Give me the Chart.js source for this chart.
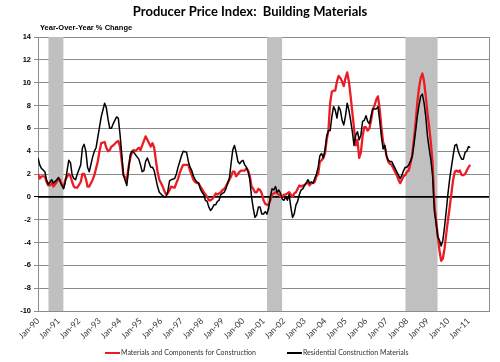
<!DOCTYPE html>
<html>
<head>
<meta charset="utf-8">
<script src="https://cdn.jsdelivr.net/npm/chart.js@4.4.1/dist/chart.umd.min.js"></script>
<style>
html,body{margin:0;padding:0;background:#ffffff;}
canvas{display:block;}
</style>
</head>
<body>
<canvas id="c" width="500" height="362"></canvas>
<script>
// ---------- DATA ----------
const chartTitle = 'Producer Price Index:  Building Materials';
const yAxisTitle = 'Year-Over-Year % Change';
const seriesNames = ['Materials and Components for Construction', 'Residential Construction Materials'];

// x tick labels, one per January (month index = position * 12, counted from Jan-1990)
const tickLabels = ['Jan-90','Jan-91','Jan-92','Jan-93','Jan-94','Jan-95','Jan-96','Jan-97','Jan-98','Jan-99','Jan-00',
                    'Jan-01','Jan-02','Jan-03','Jan-04','Jan-05','Jan-06','Jan-07','Jan-08','Jan-09','Jan-10','Jan-11'];

// months since Jan-1990 at which the values below were read
const monthsEarly = [0,1,2,4,5,6,7,8,9,11,12,13,14,15,16,18,19,20,21,22,23,25,26,27,28,29,30,32,33,34,35,36,37,
  39,40,41,42,43,44,46,47,48,49,50,52,53,54,55,56,57,59,60,61,62,63,64,66,67,68,69,70,71,73,74,75,76,77,78,80,81,82,83,84,85];
const firstMonthlyReading = 87, lastReading = 253;

// Materials and Components for Construction (red)
const materials = [
  2.0,1.6,1.8,1.8,1.3,1.0,1.0,1.2,0.9,1.3, 1.6,1.5,1.0,0.9,1.5,2.0,1.8,1.3,0.9,0.8,
  0.8,1.3,2.0,2.0,1.6,0.9,0.9,1.5,1.9,2.5, 3.1,4.0,4.7,4.8,4.3,4.0,4.1,4.4,4.5,4.8,
  4.9,4.4,3.2,1.9,1.5,2.6,3.4,3.9,4.1,4.0, 4.3,4.1,4.5,4.9,5.3,5.0,4.4,4.7,4.3,3.2,
  2.2,1.5,0.9,0.5,0.2,0.3,0.6,0.9,0.8,1.2, 1.6,2.1,2.5,2.8,
  2.8,2.8,2.3,1.9,1.5,1.3,1.2,1.2,0.9,0.7, 0.4,0.2,0.0,-0.3,-0.3,-0.2,0.0,0.3,0.2,0.3,
  0.4,0.6,0.7,0.9,1.2,1.5,1.8,2.2,2.2,1.8, 2.0,2.2,2.3,2.3,2.3,2.5,2.3,1.8,
  0.9,0.7,0.4,0.4,0.7,0.6,0.3,-0.3,-0.6,-0.7, -0.7,-0.3,0.2,0.3,0.4,0.3,0.2,0.0,0.0,0.2,
  0.2,0.3,0.4,0.2,0.0,0.3,0.4,0.7,1.0,0.9, 1.0,1.0,1.2,1.2,1.0,1.2,1.2,1.3,1.8,2.0,
  3.1,3.2,3.4,3.8,5.0,5.8,
  8.2,9.2,9.3,9.3,10.1,10.6,10.4,10.1,9.7,10.4, 10.9,10.1,8.8,7.4,6.0,4.5,5.0,3.4,3.9,5.3, 6.1,
  6.1,5.8,6.0,6.7,7.7,8.0,8.5,8.8,7.7,6.1, 4.8,4.4,3.6,3.1,2.9,2.8,2.5,2.2,1.9,1.5,
  1.2,1.5,1.8,1.9,2.2,2.3,2.9,3.6,5.0,6.4, 8.2,9.5,10.4,10.8,10.1,8.8,7.3,6.1,4.7,2.9,
  -0.6,-2.0,-3.4,-4.7,-5.6,-5.4,-4.5,-3.2,-2.0,-0.9, 0.3,1.5,2.2,2.3,2.2,2.3,1.9,1.9,2.0,2.3, 2.6,2.8
];

// Residential Construction Materials (black)
const residential = [
  3.4,2.8,2.5,2.2,1.5,1.1,1.3,1.5,1.2,1.5, 1.7,1.3,1.0,0.7,1.3,3.2,3.0,1.9,1.6,1.5,
  2.0,2.8,4.3,4.6,4.0,2.6,2.2,3.5,4.0,4.3, 5.2,6.1,7.0,8.2,7.8,6.8,6.0,6.0,6.4,7.0,
  6.9,5.5,3.8,1.9,1.0,2.4,3.7,4.0,3.9,3.7, 3.3,2.8,2.2,2.3,3.1,3.4,2.6,2.6,2.3,1.6,
  0.9,0.4,0.1,0.0,0.0,0.5,1.4,1.5,1.6,2.0, 2.6,3.1,3.6,4.0,
  3.9,3.1,2.6,2.3,1.8,1.5,1.3,1.2,0.7,0.4, 0.2,-0.3,-0.4,-0.9,-1.2,-1.0,-0.7,-0.7,-0.4,-0.3,
  0.2,0.3,0.4,0.7,1.2,1.6,2.9,4.1,4.5,3.9, 3.1,2.9,3.1,3.2,2.8,2.6,2.2,1.5,
  0.0,-1.0,-1.8,-1.6,-0.9,-0.9,-1.5,-1.5,-1.3,-1.5, -1.0,0.0,0.7,0.6,0.9,0.4,0.6,0.3,-0.2,-0.3,
  0.0,-0.3,0.2,-0.9,-1.8,-1.5,-0.7,-0.4,0.2,0.6, 0.7,1.0,1.2,1.5,1.2,1.3,1.2,1.6,2.0,2.6,
  3.6,3.8,3.4,4.1,5.3,5.8,
  5.8,7.0,7.9,7.6,6.9,7.9,7.6,6.7,6.3,7.1, 8.2,7.6,6.7,5.7,4.5,5.4,5.7,5.0,5.4,6.6, 6.7,
  7.1,6.6,6.4,7.1,7.7,7.7,7.7,7.9,6.7,5.3, 4.2,4.5,3.6,3.2,3.1,3.1,2.8,2.5,2.2,1.9,
  1.6,1.9,2.3,2.6,2.6,2.8,3.1,3.5,4.5,5.7, 7.0,8.0,8.8,9.0,8.2,7.0,5.3,4.2,3.2,1.8,
  -1.2,-2.3,-3.5,-3.8,-4.3,-3.8,-2.6,-1.2,0.3,1.6, 2.6,3.6,4.5,4.6,4.0,3.6,3.3,3.3,3.9,4.0, 4.4,4.3
];

// recessions (months since Jan-1990): start month, first month after the end
const recessionStart = [6, 134, 215];   // Jul-90, Mar-01, Dec-07
const recessionEnd   = [15, 143, 234];  // Apr-91, Dec-01, Jul-09

const yMin = -10, yMax = 14, yStep = 2;
const xMaxMonth = 264;

// ---------- BUILD ----------
const months = monthsEarly.slice();
for (let m = firstMonthlyReading; m <= lastReading; m++) months.push(m);

const toPoints = vals => vals.map((v, i) => ({x: months[i], y: v}));

const datasets = [
  {
    label: seriesNames[0], data: toPoints(materials),
    borderColor: '#ec1c24', backgroundColor: '#ec1c24', borderWidth: 2.3,
    pointRadius: 0, tension: 0, order: 1, borderJoinStyle: 'round'
  },
  {
    label: seriesNames[1], data: toPoints(residential),
    borderColor: '#000000', backgroundColor: '#000000', borderWidth: 1.5,
    pointRadius: 0, tension: 0, order: 0, borderJoinStyle: 'round'
  },
  {
    label: 'zero', data: [{x: 0, y: 0}, {x: xMaxMonth, y: 0}],
    borderColor: '#000000', borderWidth: 1.6, pointRadius: 0, order: 2
  }
];
recessionStart.forEach((s, i) => {
  datasets.push({
    label: 'recession' + i,
    data: [{x: s, y: yMax}, {x: recessionEnd[i], y: yMax}],
    fill: 'start', backgroundColor: '#c0c0c0',
    borderColor: 'rgba(0,0,0,0)', borderWidth: 0, pointRadius: 0, order: 3
  });
});

// y-axis caption above the plot and a legend drawn from the series' own labels/colours
const annotatePlugin = {
  id: 'annotate',
  afterDraw(chart) {
    const {ctx, chartArea} = chart;
    ctx.save();
    ctx.font = 'bold 7.5px "Liberation Sans", Arial, sans-serif';
    ctx.fillStyle = '#000';
    ctx.textBaseline = 'middle';
    ctx.textAlign = 'left';
    ctx.fillText(yAxisTitle, chartArea.left + 2, chartArea.top - 9);

    // legend
    const y = 353;
    let x = 105;
    ctx.font = '7px Lato, sans-serif';
    chart.data.datasets.slice(0, 2).forEach(ds => {
      ctx.strokeStyle = ds.borderColor;
      ctx.lineWidth = 2;
      ctx.beginPath();
      ctx.moveTo(x, y);
      ctx.lineTo(x + 15, y);
      ctx.stroke();
      ctx.fillStyle = '#333';
      ctx.fillText(ds.label, x + 16, y);
      x += 16 + ctx.measureText(ds.label).width + 31;
    });
    ctx.restore();
  }
};

new Chart(document.getElementById('c'), {
  type: 'line',
  data: {datasets},
  options: {
    responsive: false,
    animation: false,
    events: [],
    layout: {padding: {left: 0, right: 0, top: 0, bottom: 23}},
    plugins: {
      title: {
        display: true, text: chartTitle, color: '#000',
        font: {family: 'Lato', size: 13, weight: 'bold', lineHeight: 1.2},
        padding: {top: 4, bottom: 17.4}
      },
      legend: {display: false},
      tooltip: {enabled: false}
    },
    scales: {
      x: {
        type: 'linear', min: 0, max: xMaxMonth,
        afterBuildTicks: s => { s.ticks = tickLabels.map((t, i) => ({value: i * 12})); },
        ticks: {
          autoSkip: false, minRotation: 45, maxRotation: 45, padding: 5,
          callback: v => tickLabels[Math.round(v / 12)],
          font: {family: 'Lato', size: 8.5}, color: '#333'
        },
        grid: {display: false, drawTicks: false},
        border: {display: false},
        afterFit: s => { s.height = 28; }
      },
      y: {
        min: yMin, max: yMax,
        ticks: {stepSize: yStep, padding: 3, color: '#000',
          font: {family: '"Liberation Sans", Arial', size: 7.5, weight: 'bold'}},
        grid: {
          color: c => (c.tick && c.tick.value === 0) ? '#000' : '#8c8c8c',
          lineWidth: 1, tickLength: 4
        },
        border: {color: '#8c8c8c', width: 1},
        afterFit: s => { s.width = 38; }
      },
      yr: {
        position: 'right', display: true,
        ticks: {display: false}, grid: {display: false},
        border: {color: '#8c8c8c', width: 1},
        afterFit: s => { s.width = 11; }
      }
    }
  },
  plugins: [annotatePlugin]
});
</script>
</body>
</html>
